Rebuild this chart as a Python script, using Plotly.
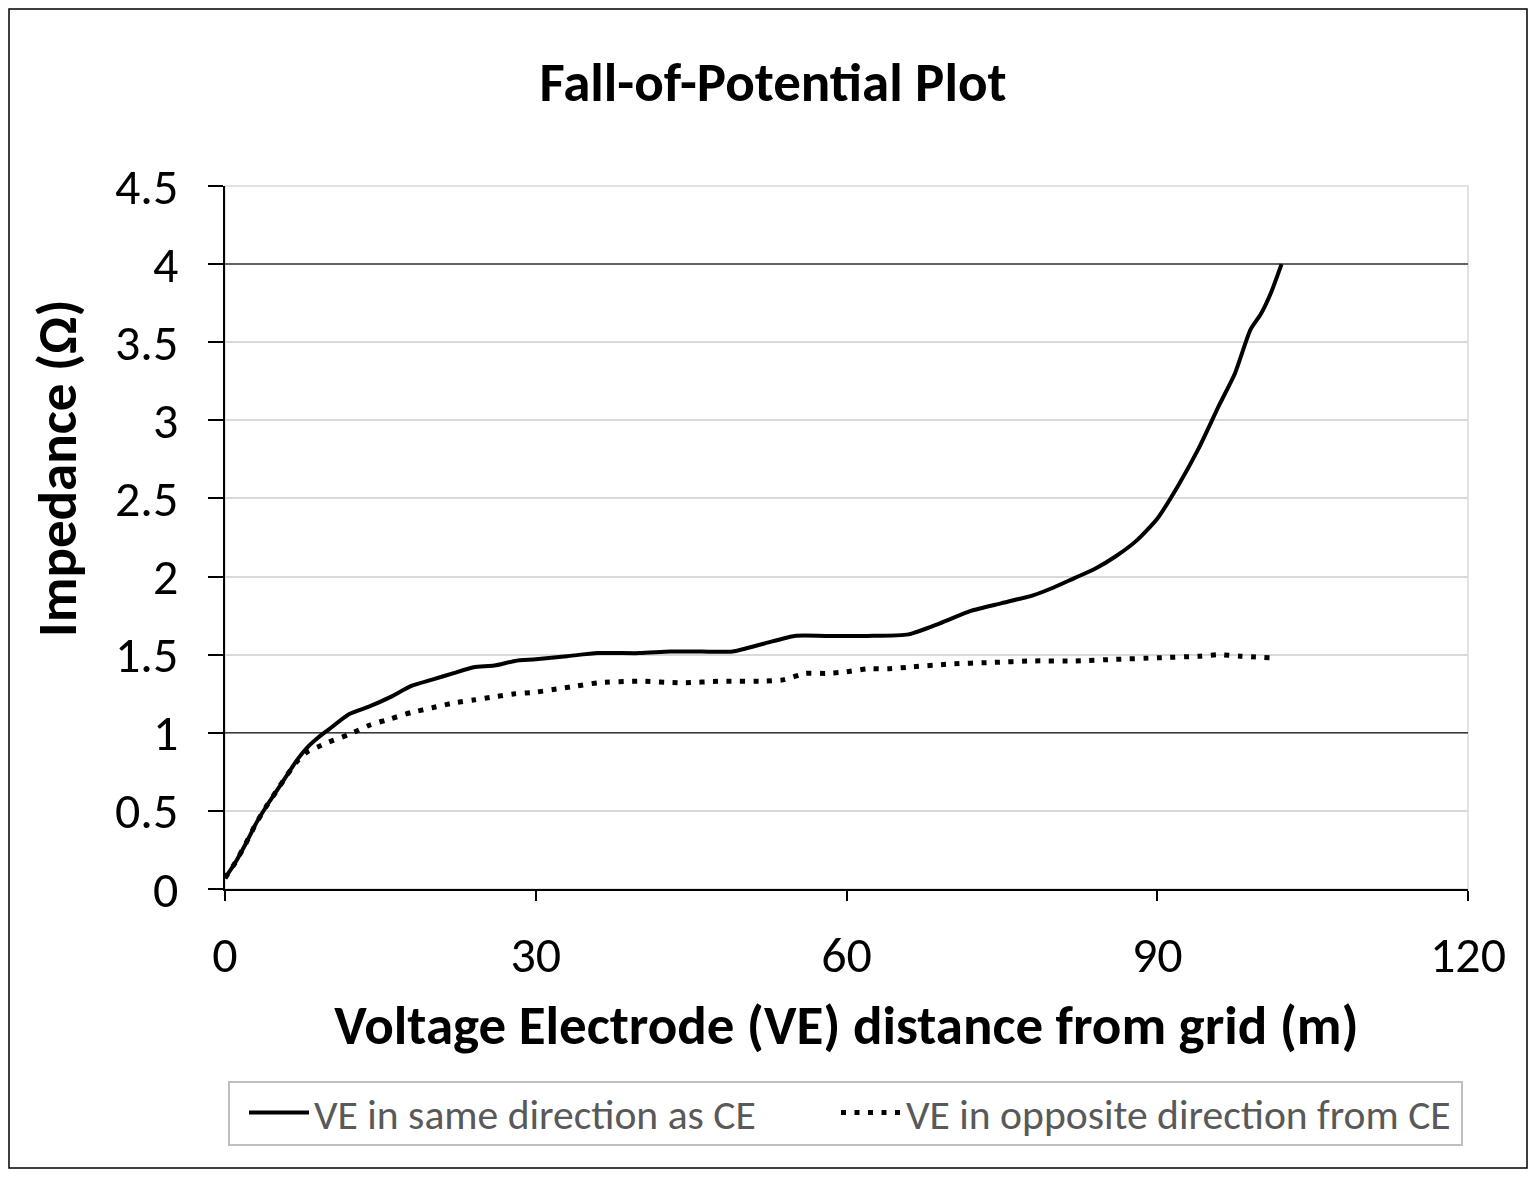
import plotly.graph_objects as go

# ---- data ----
x_same = [0, 1, 2, 3, 4, 5, 6, 7, 8, 9, 10, 12, 14, 16, 18, 20, 22, 24, 26, 28, 30, 33, 36, 40,
          43, 46, 49, 52, 55, 58, 62, 66, 69, 72, 75, 78, 80, 82, 84, 86, 88, 90, 92, 94, 96,
          97.5, 99, 100, 101, 102]
y_same = [0.07, 0.17, 0.29, 0.42, 0.53, 0.63, 0.73, 0.83, 0.91, 0.97, 1.02, 1.12, 1.17, 1.23,
          1.30, 1.34, 1.38, 1.42, 1.43, 1.46, 1.47, 1.49, 1.51, 1.51, 1.52, 1.52, 1.52, 1.57,
          1.62, 1.62, 1.62, 1.63, 1.70, 1.78, 1.83, 1.88, 1.93, 1.99, 2.05, 2.13, 2.23, 2.37,
          2.58, 2.82, 3.10, 3.30, 3.58, 3.68, 3.82, 4.0]

x_opp = [0, 1, 2, 3, 4, 5, 6, 7, 8, 9, 10, 12, 14, 16, 18, 20, 22, 24, 26, 28, 30, 32, 34, 36,
         40, 44, 48, 52, 54, 56, 58, 60, 62, 64, 66, 70, 74, 78, 82, 86, 90, 94, 96, 98, 101]
y_opp = [0.07, 0.17, 0.29, 0.42, 0.53, 0.63, 0.73, 0.82, 0.88, 0.91, 0.94, 0.99, 1.05, 1.09,
         1.13, 1.16, 1.19, 1.21, 1.23, 1.25, 1.26, 1.28, 1.30, 1.32, 1.33, 1.32, 1.33, 1.33,
         1.34, 1.38, 1.38, 1.39, 1.41, 1.41, 1.42, 1.44, 1.45, 1.46, 1.46, 1.47, 1.48, 1.49,
         1.50, 1.49, 1.48]

series_names = ["VE in same direction as CE", "VE in opposite direction from CE"]
title_text = "Fall-of-Potential Plot"
x_title = "Voltage Electrode (VE) distance from grid (m)"
y_title = "Impedance (Ω)"
x_range = [0, 120]
x_ticks = [0, 30, 60, 90, 120]
y_ticks = [0, 0.5, 1, 1.5, 2, 2.5, 3, 3.5, 4, 4.5]
y_tick_labels = ["0", "0.5", "1", "1.5", "2", "2.5", "3", "3.5", "4", "4.5"]
ref_levels = [1, 4]

# the page puts the figure at an 8px offset, so it is sized to fit inside the window
OFF = 8
W, H = 1520, 1161
ML, MR, MT, MB = 217, 60, 178, 280
PW, PH = W - ML - MR, H - MT - MB
FONT = "Carlito, Calibri, Lato, sans-serif"


def px_x(page_x):
    return (page_x - OFF - ML) / PW


def px_y(page_y):
    return 1 - (page_y - OFF - MT) / PH


fig = go.Figure()
# dark reference gridlines, drawn as traces so they sit above the light grid
for lv in ref_levels:
    fig.add_trace(go.Scatter(x=x_range, y=[lv, lv], mode="lines", showlegend=False,
                             hoverinfo="skip", line=dict(color="#3a3a3a", width=1.5)))
fig.add_trace(go.Scatter(x=x_same, y=y_same, mode="lines", name=series_names[0], legend="legend",
                         line=dict(color="black", width=4, shape="spline", smoothing=0.6)))
fig.add_trace(go.Scatter(x=x_opp, y=y_opp, mode="lines", name=series_names[1], legend="legend2",
                         line=dict(color="black", width=5, dash="5px,8.5px", shape="spline", smoothing=0.6)))

shapes = []
# plot area border (light gray)
shapes.append(dict(type="rect", xref="paper", yref="paper", x0=0, x1=1, y0=0, y1=1,
                   line=dict(color="#d9d9d9", width=1.5), layer="below"))
# legend frame
shapes.append(dict(type="rect", xref="paper", yref="paper",
                   x0=px_x(229), x1=px_x(1462), y0=px_y(1145), y1=px_y(1082),
                   line=dict(color="#bfbfbf", width=2), fillcolor="rgba(0,0,0,0)"))
# outer chart border
shapes.append(dict(type="rect", xref="paper", yref="paper",
                   x0=-(ML - 1) / PW, x1=1 + (MR - 1) / PW,
                   y0=-(MB - 1) / PH, y1=1 + (MT - 1) / PH,
                   line=dict(color="black", width=1.5)))

legend_common = dict(orientation="h", xanchor="left", yanchor="middle", y=px_y(1113),
                     borderwidth=0, bgcolor="rgba(0,0,0,0)",
                     font=dict(size=41.6, family=FONT, color="#595959"), itemwidth=60)

fig.update_layout(
    width=W, height=H,
    margin=dict(l=ML, r=MR, t=MT, b=MB),
    paper_bgcolor="white", plot_bgcolor="white",
    font=dict(family=FONT, color="black"),
    title=dict(text="<b>" + title_text + "</b>", x=px_x(773), xanchor="center", xref="paper",
               y=1 - (82 - OFF) / H, yanchor="middle", font=dict(size=55, family=FONT, color="black")),
    showlegend=True,
    legend=dict(x=px_x(244), **legend_common),
    legend2=dict(x=px_x(836), **legend_common),
    shapes=shapes,
    annotations=[dict(text="<b>" + y_title + "</b>", xref="paper", yref="paper",
                      x=px_x(57), y=px_y(468), xanchor="center", yanchor="middle",
                      textangle=-90, showarrow=False,
                      font=dict(size=55, family=FONT, color="black"))],
)

fig.update_xaxes(range=x_range, tickvals=x_ticks, ticktext=[str(v) for v in x_ticks],
                 showgrid=False, zeroline=False, showline=True, linecolor="black", linewidth=1.5,
                 ticks="outside", ticklen=10, tickwidth=1.5, tickcolor="black",
                 ticklabelstandoff=11,
                 tickfont=dict(size=50, family=FONT, color="black"),
                 title=dict(text="<b>" + x_title + "</b>", font=dict(size=55, family=FONT, color="black"),
                            standoff=22))
fig.update_yaxes(range=[0, 4.5], tickvals=y_ticks, ticktext=y_tick_labels,
                 showgrid=True, gridcolor="#d9d9d9", gridwidth=1.5, zeroline=False,
                 showline=True, linecolor="black", linewidth=1.5,
                 ticks="outside", ticklen=15, tickwidth=1.5, tickcolor="black",
                 ticklabelstandoff=20,
                 tickfont=dict(size=50, family=FONT, color="black"))

fig.write_html("out.html")
